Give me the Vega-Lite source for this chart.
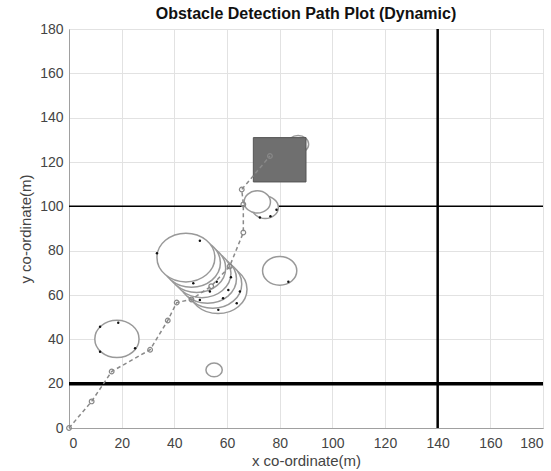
{
  "$schema": "https://vega.github.io/schema/vega-lite/v6.json",
  "width": 474,
  "height": 399,
  "autosize": {"type": "none"},
  "padding": {"left": 69, "top": 29, "right": 8, "bottom": 43},
  "background": "white",
  "title": {"text": "Obstacle Detection Path Plot (Dynamic)", "fontSize": 16, "fontWeight": "bold", "font": "Liberation Sans", "color": "#111", "offset": 0},
  "config": {
    "font": "Liberation Sans",
    "view": {"stroke": "#a0a0a0", "strokeWidth": 1},
    "axis": {"grid": true, "gridColor": "#e2e2e2", "gridWidth": 1, "domainColor": "#a0a0a0", "ticks": false, "labelFontSize": 14, "labelColor": "#444", "titleFontSize": 15, "titleFontWeight": "normal", "titleColor": "#444"}
  },
  "datasets": {
    "obstacles": [
      {"x": 18.2, "y": 40.2, "r": 8.4, "t": 1},
      {"x": 55.1, "y": 26.2, "r": 3.1, "t": 1},
      {"x": 80.0, "y": 70.9, "r": 6.5, "t": 1},
      {"x": 87.0, "y": 128.0, "r": 4.0, "t": 1},
      {"x": 71.5, "y": 102.0, "r": 5.0, "t": 1},
      {"x": 74.5, "y": 99.5, "r": 5.0, "t": 2},
      {"x": 44.4, "y": 76.9, "r": 11.0, "t": 1},
      {"x": 46.5, "y": 74.5, "r": 11.0, "t": 2},
      {"x": 48.5, "y": 72.1, "r": 11.0, "t": 3},
      {"x": 50.5, "y": 69.8, "r": 11.0, "t": 4},
      {"x": 52.6, "y": 67.3, "r": 11.0, "t": 5},
      {"x": 54.6, "y": 65.0, "r": 11.0, "t": 6},
      {"x": 56.6, "y": 62.6, "r": 11.0, "t": 7}
    ],
    "hits": [
      {"x": 11.8, "y": 45.7}, {"x": 18.7, "y": 47.5}, {"x": 11.8, "y": 34.4}, {"x": 25.1, "y": 36.0},
      {"x": 33.4, "y": 78.8}, {"x": 49.7, "y": 84.5}, {"x": 47.2, "y": 65.3}, {"x": 56.1, "y": 66.0},
      {"x": 53.5, "y": 61.6}, {"x": 56.7, "y": 53.3}, {"x": 49.7, "y": 57.8}, {"x": 60.5, "y": 62.3},
      {"x": 64.9, "y": 61.6}, {"x": 63.7, "y": 56.3}, {"x": 58.5, "y": 58.5}, {"x": 61.5, "y": 68.0},
      {"x": 72.5, "y": 95.0}, {"x": 76.5, "y": 95.5}, {"x": 78.8, "y": 98.5},
      {"x": 83.3, "y": 66.0}
    ],
    "path": [
      {"i": 0, "x": 0, "y": 0},
      {"i": 1, "x": 8.6, "y": 12.0},
      {"i": 2, "x": 16.2, "y": 25.5},
      {"i": 3, "x": 30.8, "y": 35.3},
      {"i": 4, "x": 37.5, "y": 48.5},
      {"i": 5, "x": 40.9, "y": 56.6},
      {"i": 6, "x": 46.5, "y": 58.0},
      {"i": 7, "x": 54.0, "y": 64.0},
      {"i": 8, "x": 61.0, "y": 72.9},
      {"i": 9, "x": 66.2, "y": 88.2},
      {"i": 10, "x": 66.2, "y": 100.9},
      {"i": 11, "x": 65.6, "y": 107.6},
      {"i": 12, "x": 76.3, "y": 122.7}
    ],
    "box": [{"x1": 70, "x2": 90, "y1": 111, "y2": 131}],
    "vlines": [{"x": 140}],
    "hlines": [{"y": 20, "w": 3.5}, {"y": 100, "w": 1.5}]
  },
  "layer": [
    {
      "data": {"name": "vlines"},
      "mark": {"type": "rule", "color": "black", "strokeWidth": 2.5},
      "encoding": {"x": {"field": "x", "type": "quantitative", "scale": {"domain": [0, 180], "nice": false}, "axis": {"values": [0, 20, 40, 60, 80, 100, 120, 140, 160, 180], "title": "x co-ordinate(m)", "labelPadding": 8, "titlePadding": 3}}}
    },
    {
      "data": {"name": "hlines"},
      "mark": {"type": "rule", "color": "black"},
      "encoding": {
        "y": {"field": "y", "type": "quantitative", "scale": {"domain": [0, 180], "nice": false}, "axis": {"values": [0, 20, 40, 60, 80, 100, 120, 140, 160, 180], "title": "y co-ordinate(m)", "labelPadding": 6, "titlePadding": 6}},
        "strokeWidth": {"field": "w", "type": "quantitative", "scale": null}
      }
    },
    {
      "data": {"name": "obstacles"},
      "mark": {"type": "point", "filled": true, "fill": "white", "stroke": "#999", "strokeWidth": 1.5, "opacity": 1, "shape": "M-1,0C-1,-0.4649,-0.5523,-0.8418,0,-0.8418C0.5523,-0.8418,1,-0.4649,1,0C1,0.4649,0.5523,0.8418,0,0.8418C-0.5523,0.8418,-1,0.4649,-1,0Z"},
      "encoding": {
        "x": {"field": "x", "type": "quantitative"},
        "y": {"field": "y", "type": "quantitative"},
        "size": {"field": "r", "type": "quantitative", "scale": {"type": "pow", "exponent": 2, "domain": [0, 20], "range": [0, 11095], "zero": true}, "legend": null},
        "order": {"field": "t", "sort": "descending"}
      }
    },
    {
      "data": {"name": "hits"},
      "mark": {"type": "point", "filled": true, "color": "#111", "size": 6, "opacity": 1},
      "encoding": {
        "x": {"field": "x", "type": "quantitative"},
        "y": {"field": "y", "type": "quantitative"}
      }
    },
    {
      "data": {"name": "box"},
      "mark": {"type": "rect", "fill": "#6f6f6f", "stroke": "#555", "strokeWidth": 1},
      "encoding": {
        "x": {"field": "x1", "type": "quantitative"},
        "x2": {"field": "x2"},
        "y": {"field": "y1", "type": "quantitative"},
        "y2": {"field": "y2"}
      }
    },
    {
      "data": {"name": "path"},
      "mark": {"type": "line", "color": "#8a8a8a", "strokeWidth": 1.5, "strokeDash": [4, 3]},
      "encoding": {
        "x": {"field": "x", "type": "quantitative"},
        "y": {"field": "y", "type": "quantitative"},
        "order": {"field": "i"}
      }
    },
    {
      "data": {"name": "path"},
      "mark": {"type": "point", "filled": false, "stroke": "#888", "strokeWidth": 1.2, "size": 22, "opacity": 1},
      "encoding": {
        "x": {"field": "x", "type": "quantitative"},
        "y": {"field": "y", "type": "quantitative"}
      }
    }
  ]
}
